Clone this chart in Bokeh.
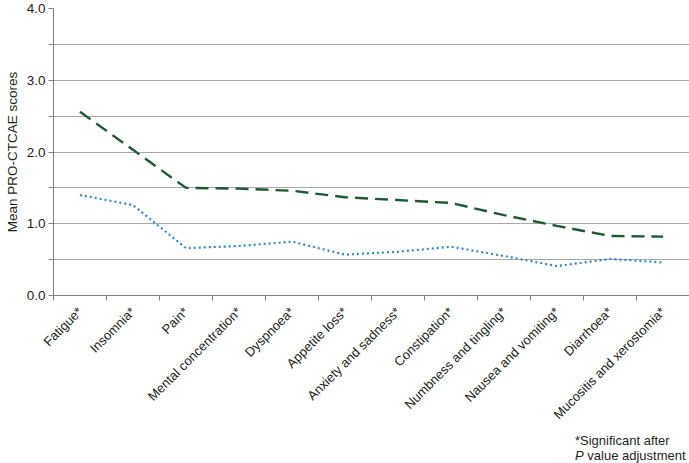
import numpy as np
from bokeh.plotting import figure
from bokeh.models import FixedTicker, Range1d, Div
from bokeh.layouts import column
from bokeh.embed import file_html
from bokeh.resources import INLINE
from math import pi

categories = ["Fatigue*", "Insomnia*", "Pain*", "Mental concentration*", "Dyspnoea*",
              "Appetite loss*", "Anxiety and sadness*", "Constipation*",
              "Numbness and tingling*", "Nausea and vomiting*", "Diarrhoea*",
              "Mucositis and xerostomia*"]
dashed_series = [2.56, 2.03, 1.50, 1.49, 1.46, 1.37, 1.33, 1.29, 1.12, 0.97, 0.83, 0.82]
dotted_series = [1.40, 1.26, 0.66, 0.69, 0.75, 0.57, 0.61, 0.68, 0.55, 0.41, 0.51, 0.46]
y_major = [0.0, 1.0, 2.0, 3.0, 4.0]
y_minor = [0.5, 1.5, 2.5, 3.5]
footnote_line1 = "*Significant after"
footnote_line2 = ("P", " value adjustment")

FONT = "Liberation Sans"
TXT = "#231f20"
AX = "#7f7f7f"

xs = [i + 0.5 for i in range(len(categories))]

p = figure(width=689, height=430, output_backend="svg", toolbar_location=None,
           x_range=Range1d(0, len(categories)), y_range=Range1d(0, 4.0),
           min_border_left=53, min_border_right=0, min_border_top=8, min_border_bottom=135)
p.frame_width = 636
p.frame_height = 287
p.outline_line_color = None
p.background_fill_color = "white"
p.margin = (0, 0, 0, 0)

p.line(xs, dashed_series, line_color="#1b5a34", line_width=2.4, line_dash="13 7")
p.line(xs, dotted_series, line_color="#2f88d8", line_width=2.2, line_dash="2 3")

# y axis
p.yaxis.ticker = FixedTicker(ticks=y_major, minor_ticks=y_minor)
p.yaxis.major_label_overrides = {v: f"{v:.1f}" for v in y_major}
p.yaxis.major_tick_out = 5
p.yaxis.major_tick_in = 0
p.yaxis.minor_tick_out = 5
p.yaxis.minor_tick_in = 0
p.yaxis.axis_label = "Mean PRO-CTCAE scores"
p.yaxis.axis_label_text_font = FONT
p.yaxis.axis_label_text_font_style = "normal"
p.yaxis.axis_label_text_font_size = "13.5px"
p.yaxis.axis_label_text_color = TXT
p.yaxis.axis_label_standoff = 4
p.yaxis.major_label_text_font = FONT
p.yaxis.major_label_text_font_size = "13.5px"
p.yaxis.major_label_text_color = TXT
p.yaxis.major_label_standoff = 3
p.yaxis.axis_line_color = AX
p.yaxis.major_tick_line_color = AX
p.yaxis.minor_tick_line_color = AX

# x axis: labels at centers, ticks at boundaries
p.xaxis.ticker = FixedTicker(ticks=xs, minor_ticks=list(range(len(categories) + 1)))
p.xaxis.major_label_overrides = {x: c for x, c in zip(xs, categories)}
p.xaxis.major_label_orientation = pi / 4
p.xaxis.major_tick_out = 0
p.xaxis.major_tick_in = 0
p.xaxis.minor_tick_out = 5
p.xaxis.minor_tick_in = 0
p.xaxis.minor_tick_line_color = AX
p.xaxis.axis_line_color = AX
p.xaxis.major_label_text_font = FONT
p.xaxis.major_label_text_font_size = "13px"
p.xaxis.major_label_text_color = TXT
p.xaxis.major_label_standoff = 9

# grids
p.xgrid.grid_line_color = None
p.ygrid.grid_line_color = "#a8a8a8"
p.ygrid.grid_line_width = 1
p.ygrid.minor_grid_line_color = "#a8a8a8"
p.ygrid.minor_grid_line_width = 1

note = Div(
    text=(f'<div style="font-family:\'{FONT}\';font-size:13px;line-height:15px;'
          f'color:{TXT};white-space:nowrap;">{footnote_line1}<br>'
          f'<i>{footnote_line2[0]}</i>{footnote_line2[1]}</div>'),
    width=114, height=32, margin=(3, 0, 0, 575))

layout = column(p, note, spacing=0)

open("out.html", "w").write(file_html(layout, INLINE))
